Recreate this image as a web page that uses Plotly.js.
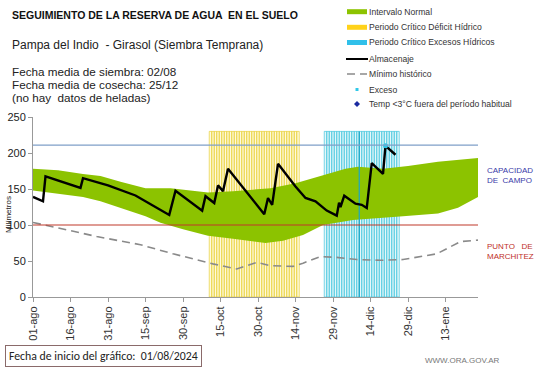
<!DOCTYPE html>
<html><head><meta charset="utf-8">
<script src="https://cdn.plot.ly/plotly-3.0.1.min.js"></script>
<style>html,body{margin:0;padding:0;background:#fff}#chart{width:541px;height:368px}</style>
</head><body><div id="chart"></div>
<script>
// ---- data ----
const tickVals = ['2024-08-01','2024-08-16','2024-08-31','2024-09-15','2024-09-30','2024-10-15','2024-10-30','2024-11-14','2024-11-29','2024-12-14','2024-12-29','2025-01-13'];
const tickText = ['01-ago','16-ago','31-ago','15-sep','30-sep','15-oct','30-oct','14-nov','29-nov','14-dic','29-dic','13-ene'];

const normalSupFechas = ['2024-08-01','2024-08-11','2024-08-21','2024-08-28','2024-09-05','2024-09-15','2024-09-25','2024-10-02','2024-10-10','2024-10-20','2024-11-04','2024-11-14','2024-11-24','2024-12-04','2024-12-09','2024-12-19','2024-12-29','2025-01-10','2025-01-26'];
const normalSup = [178,176,171,168,160,151,151,148,145,147,151,158,168,178,181,178,182,188,193];
const normalInfFechas = ['2024-08-01','2024-08-11','2024-08-21','2024-08-28','2024-09-05','2024-09-15','2024-09-21','2024-09-30','2024-10-10','2024-10-20','2024-11-02','2024-11-09','2024-11-17','2024-11-25','2024-12-07','2024-12-27','2025-01-10','2025-01-18','2025-01-26'];
const normalInf = [148,144,139,133,124,112,103,94,85,81,75,78,86,100,107,112,116,124,139];

const almacFechas = ['2024-08-01','2024-08-05','2024-08-06','2024-08-20','2024-08-21','2024-08-31','2024-09-11','2024-09-19','2024-09-24 12:00','2024-09-27','2024-10-07 16:00','2024-10-09','2024-10-12 12:00','2024-10-14','2024-10-16','2024-10-18','2024-11-01 12:00','2024-11-03','2024-11-04 16:00','2024-11-07','2024-11-14','2024-11-18','2024-11-22','2024-11-26 12:00','2024-11-30 12:00','2024-12-01 10:00','2024-12-02','2024-12-03 12:00','2024-12-08','2024-12-10 12:00','2024-12-12 12:00','2024-12-14 12:00','2024-12-19','2024-12-20','2024-12-24'];
const almacenaje = [139,133,167.5,151.5,165,155,141,125,114,147.5,120,140,130.5,155,147,178,115,137.5,128,185,153.6,137.5,133,120,113,131,125,140.7,129.6,128,123.6,186,171,210,197.6];

const minFechas = ['2024-08-01','2024-08-14 12:00','2024-08-26 12:00','2024-09-13','2024-09-26','2024-10-12','2024-10-21 12:00','2024-10-29 12:00','2024-11-04','2024-11-13','2024-11-17','2024-11-24','2024-11-30 12:00','2024-12-08 12:00','2024-12-18','2024-12-27','2025-01-09 12:00','2025-01-19','2025-01-26'];
const minimoHistorico = [103.6,93.5,84,72.6,60,46,39,48,43.5,42.5,47,56,55,52,51,52,60,77,79];

const excesoFechas = ['2024-12-20'];
const excesoValores = [210];
const capacidadCampo = 211;
const puntoMarchitez = 100;
const deficitInicio = '2024-10-11', deficitFin = '2024-11-15';
const excesosInicio = '2024-11-26', excesosFin = '2024-12-25';
const alturaPeriodo = 230;
const fechaMarca = '2024-12-09 12:00';

const leyendaTextos = ['Intervalo Normal','Periodo Crítico Déficit Hídrico','Periodo Crítico Excesos Hídricos','Almacenaje','Mínimo histórico','Exceso','Temp <3°C fuera del período habitual'];

// ---- helpers ----
function dias(a, b) {
  const out = []; let t = Date.parse(a + 'T00:00:00Z'); const e = Date.parse(b + 'T00:00:00Z');
  while (t <= e) { out.push(new Date(t).toISOString().slice(0, 10)); t += 86400000; }
  return out;
}
const diasDeficit = dias(deficitInicio, deficitFin);
const diasExcesos = dias(excesosInicio, excesosFin);
const DAY = 86400000;

const traces = [
  { type:'scatter', mode:'lines', x: normalSupFechas.concat(normalInfFechas.slice().reverse()),
    y: normalSup.concat(normalInf.slice().reverse()), fill:'toself', fillcolor:'#8cc300',
    line:{width:0, color:'#8cc300'}, hoverinfo:'skip' },
  { type:'bar', x: diasDeficit, y: diasDeficit.map(()=>alturaPeriodo), width: DAY,
    marker:{color:'rgba(255,240,140,0.3)', line:{color:'rgba(232,206,50,0.85)', width:0.8}}, hoverinfo:'skip' },
  { type:'bar', x: diasExcesos, y: diasExcesos.map(()=>alturaPeriodo), width: DAY,
    marker:{color:'rgba(170,228,240,0.3)', line:{color:'rgba(60,195,220,0.85)', width:0.8}}, hoverinfo:'skip' },
  { type:'scatter', mode:'lines', x:[fechaMarca, fechaMarca], y:[0, alturaPeriodo],
    line:{color:'#1aa6c8', width:1.2}, hoverinfo:'skip' },
  { type:'scatter', mode:'lines', x: minFechas, y: minimoHistorico,
    line:{color:'#8a8a8a', width:1.6, dash:'8px,5px'} },
  { type:'scatter', mode:'lines', x: almacFechas, y: almacenaje,
    line:{color:'#000', width:2.4} },
  { type:'scatter', mode:'markers', x: excesoFechas, y: excesoValores,
    marker:{color:'#30c8e8', size:5} }
];

const W = 445, H = 180, L = 33, T = 117;
const px = v => (v - L) / W;
const py = v => (T + H - v) / H;
const F = 'Liberation Sans, Arial, sans-serif';

const annotations = [
  { text:'<b>SEGUIMIENTO DE LA RESERVA DE AGUA  EN EL SUELO</b>', x:px(10), y:py(15), font:{size:10.5, color:'#111'} },
  { text:'Pampa del Indio  - Girasol (Siembra Temprana)', x:px(10), y:py(45), font:{size:12, color:'#222'} },
  { text:'Fecha media de siembra: 02/08', x:px(10), y:py(71), font:{size:11.7, color:'#222'} },
  { text:'Fecha media de cosecha: 25/12', x:px(10), y:py(84), font:{size:11.7, color:'#222'} },
  { text:'(no hay  datos de heladas)', x:px(10), y:py(97), font:{size:11.7, color:'#222'} },
  { text:'Milímetros', x:px(8), y:py(215), textangle:-90, xanchor:'center', font:{size:8, color:'#222'} },
  { text:'CAPACIDAD<br>DE  CAMPO', x:px(485), y:py(175), align:'left', font:{size:8, color:'#3a3aa8'} },
  { text:'PUNTO   DE<br>MARCHITEZ', x:px(485), y:py(251), align:'left', font:{size:8, color:'#c0302a'} },
  { text:'Fecha de inicio del gráfico:  01/08/2024', x:px(5), y:py(355.5), font:{size:11.8, color:'#222', family:'Carlito, Lato, sans-serif'},
    bordercolor:'#8a6a6a', borderwidth:1, borderpad:3 },
  { text:'WWW.ORA.GOV.AR', x:px(423), y:py(360), font:{size:8, color:'#777'} }
];

// manual legend
const legY = [11.7, 27.3, 42.5, 59, 74, 89.5, 104];
const legShapes = [];
const sx0 = px(347), sx1 = px(367), sxm = px(357);
const legColors = ['#8cc300','#ffd21a','#30c0ea'];
for (let i = 0; i < 3; i++) legShapes.push({ type:'line', xref:'paper', yref:'paper', x0:sx0, x1:sx1, y0:py(legY[i]), y1:py(legY[i]), line:{color:legColors[i], width:5} });
legShapes.push({ type:'line', xref:'paper', yref:'paper', x0:px(346), x1:px(368), y0:py(legY[3]), y1:py(legY[3]), line:{color:'#000', width:2} });
legShapes.push({ type:'line', xref:'paper', yref:'paper', x0:sx0, x1:sx1, y0:py(legY[4]), y1:py(legY[4]), line:{color:'#8a8a8a', width:1.6, dash:'8px,5px'} });
legShapes.push({ type:'rect', xref:'paper', yref:'paper', x0:px(355.5), x1:px(358.5), y0:py(legY[5]-1.5), y1:py(legY[5]+1.5), line:{width:0}, fillcolor:'#30c8e8' });
const dx = 3 / W, dy = 3 / H, cy = py(legY[6]);
legShapes.push({ type:'path', xref:'paper', yref:'paper', path:`M ${sxm},${cy+dy} L ${sxm+dx},${cy} L ${sxm},${cy-dy} L ${sxm-dx},${cy} Z`, line:{width:0}, fillcolor:'#1a2aa0' });
leyendaTextos.forEach((t, i) => annotations.push({ text:t, x:px(367), y:py(legY[i]), font:{size:8.6, color:'#333'} }));

annotations.forEach(a => { for (const [k, v] of Object.entries({xref:'paper', yref:'paper', xanchor:'left', yanchor:'middle', showarrow:false})) if (a[k] === undefined) a[k] = v; });

const layout = {
  width:541, height:368,
  margin:{l:L, r:541-L-W, t:T, b:368-T-H, pad:0},
  paper_bgcolor:'#fff', plot_bgcolor:'#fff',
  font:{family:F, color:'#222'},
  barmode:'overlay', bargap:0,
  showlegend:false,
  xaxis:{type:'date', range:['2024-08-01','2025-01-26'], tickvals:tickVals, ticktext:tickText, tickangle:-90,
    showgrid:false, zeroline:false, showline:true, linecolor:'#999', linewidth:1, ticks:'outside', ticklen:4, tickcolor:'#999',
    tickfont:{size:11, color:'#333'}, fixedrange:true},
  yaxis:{range:[0,250], tickvals:[0,50,100,150,200,250], showgrid:false, zeroline:false, showline:true, linecolor:'#999', linewidth:1,
    ticks:'outside', ticklen:4, tickcolor:'#999', tickfont:{size:11, color:'#222'}, fixedrange:true},
  shapes:[
    { type:'line', xref:'paper', x0:0, x1:1, yref:'y', y0:capacidadCampo, y1:capacidadCampo, line:{color:'#7f9fc8', width:1.2}, layer:'above' },
    { type:'line', xref:'paper', x0:0, x1:1, yref:'y', y0:puntoMarchitez, y1:puntoMarchitez, line:{color:'#c0392b', width:1.2}, layer:'above' }
  ].concat(legShapes),
  annotations: annotations
};

Plotly.newPlot('chart', traces, layout, {staticPlot:true, displayModeBar:false});
</script>
</body></html>
